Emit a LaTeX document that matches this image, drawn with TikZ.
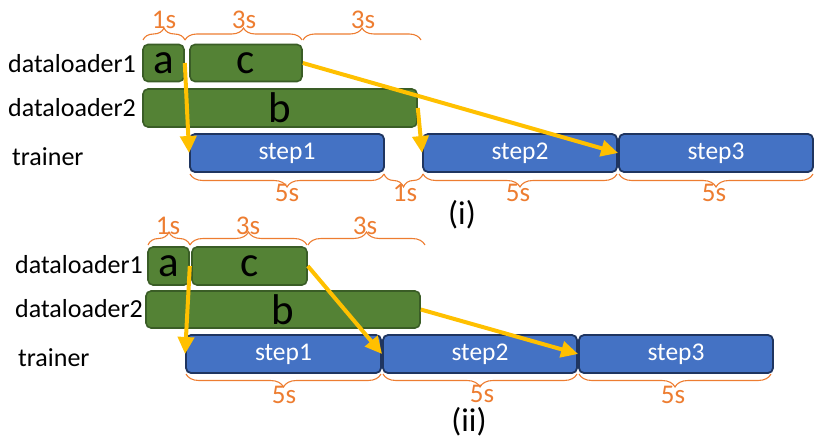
\documentclass[tikz,border=0pt]{standalone}
\usepackage{fontspec}
\setmainfont{Carlito}
\usetikzlibrary{arrows.meta,decorations.pathreplacing}
\definecolor{gfill}{HTML}{548235}
\definecolor{gline}{HTML}{3A5D26}
\definecolor{bfill}{HTML}{4472C4}
\definecolor{bline}{HTML}{1F3560}
\definecolor{orng}{HTML}{ED7D31}
\definecolor{ylw}{HTML}{FFC000}
\tikzset{
  gbox/.style={draw=gline, fill=gfill, line width=1.6pt, rounded corners=5pt, inner sep=0pt, font=\fontsize{43}{44}\selectfont, text=black},
  bbox/.style={draw=bline, fill=bfill, line width=1.8pt, rounded corners=5pt, inner sep=0pt, minimum width=194pt, minimum height=38pt, font=\fontsize{25.5}{28}\selectfont, text=white},
  lbl/.style={anchor=west, inner sep=0pt, font=\fontsize{26}{28}\selectfont},
  olbl/.style={inner sep=0pt, text=orng, font=\fontsize{27}{29}\selectfont},
  br/.style={draw=orng, line width=1.1pt, decorate, decoration={brace, amplitude=#1}},
  br/.default=12pt,
  arr/.style={draw=ylw, line width=4pt, -{Triangle[length=17pt,width=16pt]}},
  capn/.style={inner sep=0pt, font=\fontsize{33}{35}\selectfont}
}
\begin{document}
\begin{tikzpicture}[x=1pt,y=-1pt]
\useasboundingbox (0,0) rectangle (829,444);
% ---------- (i) ----------
\node[lbl] (l1) at (8,64) {dataloader1};
\node[lbl] (l2) at (8,108) {dataloader2};
\node[lbl] (l3) at (12,157) {trainer};
\node[gbox, minimum width=41pt, minimum height=37pt] (a) at (163.5,63) {a};
\node[gbox, minimum width=112pt, minimum height=37pt] (c) at (246,63) {c};
\node[gbox, minimum width=274pt, minimum height=38pt] (b) at (280,108) {b};
\node[bbox] (s1) at (287,153) {step1};
\node[bbox] (s2) at (520,153) {step2};
\node[bbox] (s3) at (716,153) {step3};
% top braces
\draw[br] (143,40) -- (185,40);
\draw[br] (185,40) -- (302,40);
\draw[br] (303,40) -- (421,40);
\node[olbl] (t1) at (164,20) {1s};
\node[olbl] (t2) at (244,20) {3s};
\node[olbl] (t3) at (363,20) {3s};
% bottom braces
\draw[br=13pt] (384,174) -- (190,174);
\draw[br=13pt] (423,174) -- (384,174);
\draw[br=13pt] (617,174) -- (423,174);
\draw[br=13pt] (813,174) -- (619,174);
\node[olbl] (u1) at (287,193) {5s};
\node[olbl] (u2) at (405,193) {1s};
\node[olbl] (u3) at (518,193) {5s};
\node[olbl] (u4) at (714,193) {5s};
\node[capn] (ci) at (462,215) {(i)};
% arrows
\draw[arr] (a.east) -- (s1.west);
\draw[arr] (b.east) -- (s2.west);
\draw[arr] (c.east) -- (s3.west);
% ---------- (ii) ----------
\node[lbl] (m1) at (15,265) {dataloader1};
\node[lbl] (m2) at (15,309) {dataloader2};
\node[lbl] (m3) at (18,358) {trainer};
\node[gbox, minimum width=41pt, minimum height=38pt] (a2) at (168.5,266) {a};
\node[gbox, minimum width=115pt, minimum height=38pt] (c2) at (249.5,266) {c};
\node[gbox, minimum width=274pt, minimum height=37pt] (b2) at (283,309.5) {b};
\node[bbox, minimum width=195pt] (r1) at (283.5,354) {step1};
\node[bbox] (r2) at (480,354) {step2};
\node[bbox] (r3) at (676,354) {step3};
\draw[br=13pt] (148,245) -- (190,245);
\draw[br=13pt] (190,245) -- (307,245);
\draw[br=13pt] (308,245) -- (425,245);
\node[olbl] (v1) at (168,226) {1s};
\node[olbl] (v2) at (248,226) {3s};
\node[olbl] (v3) at (365,226) {3s};
\draw[br=13pt] (381,374) -- (186,374);
\draw[br=13pt] (577,374) -- (383,374);
\draw[br=13pt] (771,374) -- (579,374);
\node[olbl] (w1) at (284,395) {5s};
\node[olbl] (w2) at (482,394) {5s};
\node[olbl] (w3) at (673,395) {5s};
\node[capn] (cii) at (469,422) {(ii)};
\draw[arr] (a2.east) -- (r1.west);
\draw[arr] (c2.east) -- (r2.west);
\draw[arr] (b2.east) -- (r3.west);
\end{tikzpicture}
\end{document}
